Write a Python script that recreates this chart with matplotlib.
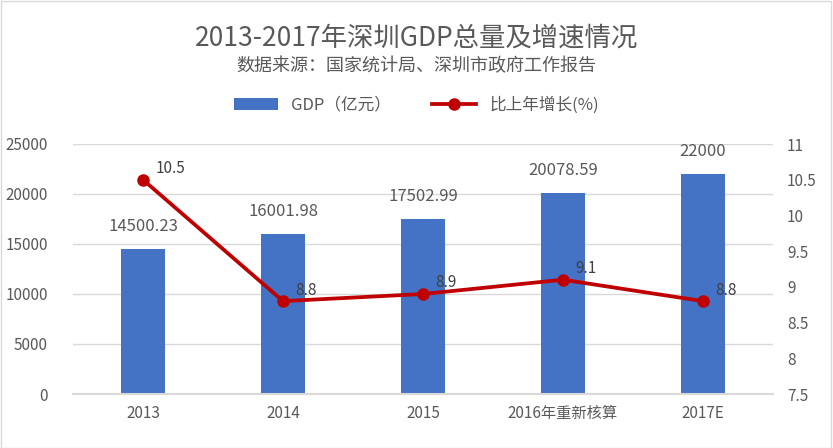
import matplotlib.pyplot as plt
from matplotlib.patches import Rectangle

plt.rcParams['font.family'] = ['Noto Sans CJK SC', 'DejaVu Sans']

# ------------------------- Dados -------------------------
years = ['2013', '2014', '2015', '2016年重新核算', '2017E']
gdp = [14500.23, 16001.98, 17502.99, 20078.59, 22000]
gdp_labels = ['14500.23', '16001.98', '17502.99', '20078.59', '22000']
growth = [10.5, 8.8, 8.9, 9.1, 8.8]
left_ticks = [0, 5000, 10000, 15000, 20000, 25000]
right_ticks = [7.5, 8, 8.5, 9, 9.5, 10, 10.5, 11]

BLUE = '#4472C4'
RED = '#C00000'
GREY = '#595959'
GRID = '#D9D9D9'

fig = plt.figure(figsize=(8.33, 4.48), dpi=100)
ax = fig.add_axes([73 / 833, 54 / 448, 700 / 833, 250 / 448])
ax2 = ax.twinx()

x = list(range(len(years)))
bars = ax.bar(x, gdp, width=0.31, color=BLUE, label='GDP（亿元）', zorder=2)
for xi, v, lab in zip(x, gdp, gdp_labels):
    ax.annotate(lab, (xi, v), xytext=(0, 10), textcoords='offset points',
                ha='center', va='bottom', fontsize=12, color=GREY)

ax.set_xlim(-0.5, len(years) - 0.5)
ax.set_ylim(0, 25000)
ax.set_yticks(left_ticks)
ax.set_yticklabels([str(t) for t in left_ticks])
ax.grid(axis='y', color=GRID, linewidth=1, zorder=0)
ax.set_axisbelow(True)
ax.set_xticks(x)
ax.set_xticklabels(years)
ax.tick_params(axis='x', length=0, pad=8, labelsize=11, labelcolor=GREY)
ax.tick_params(axis='y', length=0, pad=18, labelsize=11, labelcolor=GREY)
for s in ['top', 'left', 'right']:
    ax.spines[s].set_visible(False)
ax.spines['bottom'].set_color(GRID)
ax.spines['bottom'].set_linewidth(1.5)

line, = ax2.plot(x, growth, '-o', color=RED, linewidth=2.7, markersize=8,
                 label='比上年增长(%)', zorder=3)
for xi, v in zip(x, growth):
    ax2.annotate(str(v), (xi, v), xytext=(9, 8), textcoords='offset points',
                 ha='left', va='center', fontsize=11, color='#404040')
ax2.set_ylim(7.5, 11)
ax2.set_yticks(right_ticks)
ax2.set_yticklabels(['7.5', '8', '8.5', '9', '9.5', '10', '10.5', '11'])
ax2.tick_params(axis='y', length=0, pad=10, labelsize=11, labelcolor=GREY)
for s in ['top', 'left', 'right', 'bottom']:
    ax2.spines[s].set_visible(False)

fig.text(0.5, 1 - 38 / 448, '2013-2017年深圳GDP总量及增速情况',
         ha='center', va='center', fontsize=19, color=GREY)
fig.text(0.5, 1 - 66 / 448, '数据来源：国家统计局、深圳市政府工作报告',
         ha='center', va='center', fontsize=13, color=GREY)

fig.legend(handles=[bars, line], loc='center', bbox_to_anchor=(0.5, 1 - 105 / 448),
           ncol=2, frameon=False, fontsize=12, labelcolor=GREY,
           handlelength=2.6, columnspacing=2.5)

fig.patches.append(Rectangle((0.001, 0.001), 0.997, 0.997, transform=fig.transFigure,
                             fill=False, edgecolor=GRID, linewidth=1))

plt.savefig('out.png', dpi=100)
